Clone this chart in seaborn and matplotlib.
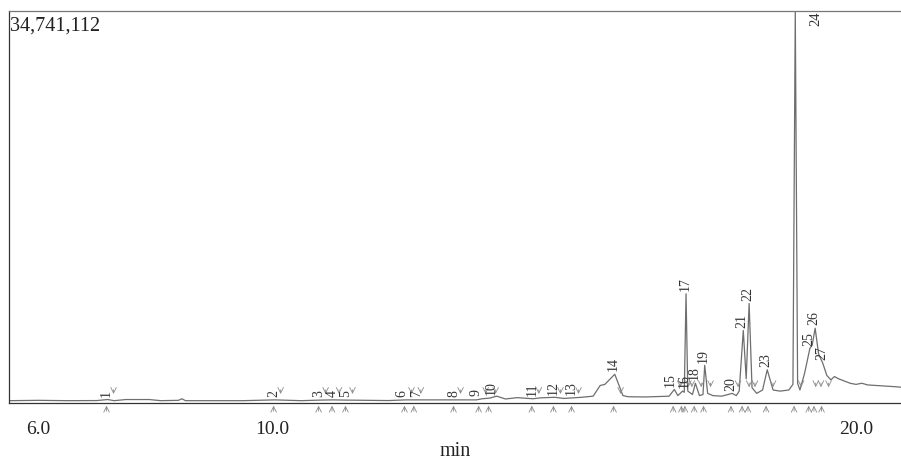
import matplotlib
matplotlib.use("Agg")
import matplotlib.pyplot as plt
import seaborn as sns
import pandas as pd

# chromatogram trace (time in min, signal in millions of counts)
trace_time = [5.50, 6.00, 6.50, 7.00, 7.19, 7.30, 7.50, 7.90, 8.10, 8.40, 8.46, 8.52,
              9.50, 10.05, 10.50, 10.82, 11.05, 11.28, 12.00, 12.29, 12.45, 13.13,
              13.50, 13.60, 13.73, 13.85, 14.00, 14.20, 14.47, 14.60, 14.84, 15.00,
              15.15, 15.30, 15.50, 15.62, 15.70, 15.87, 16.01, 16.10, 16.40, 16.80,
              16.89, 16.95, 17.03, 17.06, 17.09, 17.12, 17.20, 17.25, 17.32, 17.38,
              17.41, 17.46, 17.55, 17.70, 17.88, 17.95, 18.00, 18.07, 18.12, 18.17,
              18.22, 18.30, 18.40, 18.48, 18.58, 18.70, 18.85, 18.92, 18.96, 19.00,
              19.04, 19.12, 19.21, 19.25, 19.30, 19.36, 19.43, 19.50, 19.57, 19.63,
              19.70, 19.80, 19.90, 20.00, 20.10, 20.20, 20.35, 20.50, 20.65, 20.77]
trace_signal = [0.05, 0.08, 0.05, 0.06, 0.15, 0.05, 0.15, 0.15, 0.05, 0.08, 0.22, 0.05,
                0.05, 0.12, 0.05, 0.10, 0.12, 0.10, 0.06, 0.12, 0.12, 0.12,
                0.12, 0.22, 0.28, 0.45, 0.20, 0.32, 0.22, 0.30, 0.35, 0.25,
                0.30, 0.35, 0.45, 1.40, 1.50, 2.40, 0.50, 0.40, 0.38, 0.45,
                1.05, 0.50, 0.90, 0.80, 9.57, 0.90, 0.60, 1.60, 0.50, 0.60,
                3.20, 0.70, 0.50, 0.45, 0.70, 0.50, 0.90, 6.30, 2.00, 8.70,
                1.20, 0.70, 1.00, 2.80, 1.00, 0.90, 1.00, 1.50, 34.74, 1.60,
                1.00, 2.50, 4.70, 5.00, 6.50, 4.20, 3.40, 2.30, 1.90, 2.20,
                2.00, 1.80, 1.60, 1.50, 1.60, 1.45, 1.40, 1.35, 1.30, 1.25]

# labelled peaks: retention time, apex height (millions)
peak_ids = [str(i) for i in range(1, 28)]
peak_rt = [7.19, 10.05, 10.82, 11.05, 11.28, 12.29, 12.45, 13.13, 13.56, 13.73,
           14.47, 14.84, 15.15, 15.87, 16.89, 17.03, 17.09, 17.25, 17.41, 17.88,
           18.07, 18.17, 18.48, 18.96, 19.21, 19.30, 19.43]
peak_height = [0.15, 0.12, 0.10, 0.12, 0.10, 0.12, 0.12, 0.12, 0.20, 0.28,
               0.22, 0.35, 0.30, 2.40, 1.05, 0.90, 9.57, 1.60, 3.20, 0.70,
               6.30, 8.70, 2.80, 34.74, 4.70, 6.50, 3.40]
y_max = 34.741112
y_max_label = "34,741,112"
x_ticks = [6, 7, 8, 9, 10, 11, 12, 13, 14, 15, 16, 17, 18, 19, 20]
x_ticklabels = ["6.0", "", "", "", "10.0", "", "", "", "", "", "", "", "", "", "20.0"]

# small sideways nudges (points) for crowded labels
label_nudge = {"6": -2, "7": 2, "9": -2, "10": 2, "15": -2, "16": 2}

sns.set_style("white")
plt.rcParams['font.family'] = ['Liberation Serif', 'DejaVu Serif']

df = pd.DataFrame({"time": trace_time, "signal": trace_signal})

fig = plt.figure(figsize=(9.01, 4.61), dpi=100)
ax = fig.add_axes([0.01, 0.126, 0.99, 0.85])
sns.lineplot(data=df, x="time", y="signal", ax=ax, color="#6e6e6e", lw=0.9)

ax.set_xlim(5.5, 20.77)
ax.set_ylim(-0.15, y_max)
ax.set_yticks([])
ax.set_xticks(x_ticks)
ax.set_xticklabels(x_ticklabels, fontsize=14, color="#222222")
ax.tick_params(axis="x", direction="out", length=4, width=0.8, color="#555555", pad=9)
ax.set_xlabel("min", fontsize=14.5, color="#222222", labelpad=3)
ax.set_ylabel("")

for side in ["left", "bottom"]:
    ax.spines[side].set_color("#333333")
    ax.spines[side].set_linewidth(0.9)
ax.spines["top"].set_color("#777777")
ax.spines["top"].set_linewidth(0.9)
ax.spines["right"].set_visible(False)

ax.text(0.001, 0.985, y_max_label, transform=ax.transAxes, ha="left", va="top",
        fontsize=14.5, color="#222222")

# integration arrows and peak labels
for pid, rt, h in zip(peak_ids, peak_rt, peak_height):
    ax.annotate("", xy=(rt - 0.02, -0.15), xytext=(0, -8), textcoords="offset points",
                arrowprops=dict(arrowstyle="->", color="#8a8a8a", lw=0.6),
                annotation_clip=False)
    ax.annotate("", xy=(rt + 0.1, 0.4 if rt < 16 else 1.0), xytext=(0, 7),
                textcoords="offset points",
                arrowprops=dict(arrowstyle="->", color="#8a8a8a", lw=0.6))
    if pid == "24":
        ax.text(rt + 0.36, y_max, pid, rotation=90, ha="center", va="top",
                fontsize=10.5, color="#333333")
    else:
        ax.annotate(pid, xy=(rt - 0.02, h), xytext=(label_nudge.get(pid, 0), 2),
                    textcoords="offset points", rotation=90, ha="center",
                    va="bottom", fontsize=10, color="#333333")

fig.savefig("out.png", dpi=100)
